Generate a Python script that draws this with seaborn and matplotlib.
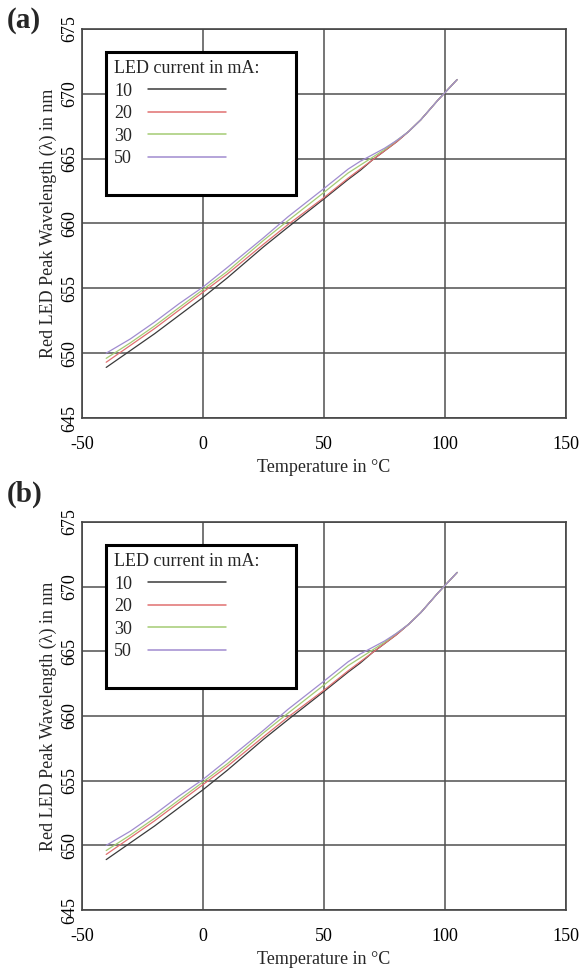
import pandas as pd
import matplotlib.pyplot as plt
import seaborn as sns
from matplotlib.patches import Rectangle

# data
temps = [-40, -30, -20, -10, 0, 10, 25, 35, 50, 60, 65, 70, 75, 80, 85, 90, 97, 105]
wl_10 = [648.9, 650.2, 651.5, 652.9, 654.3, 655.8, 658.2, 659.7, 661.9, 663.4, 664.1, 664.9, 665.6, 666.3, 667.1, 668.0, 669.5, 671.1]
wl_20 = [649.3, 650.6, 651.9, 653.3, 654.7, 656.1, 658.4, 659.9, 662.0, 663.5, 664.2, 664.9, 665.6, 666.3, 667.1, 668.0, 669.5, 671.1]
wl_30 = [649.6, 650.8, 652.1, 653.5, 654.9, 656.3, 658.7, 660.2, 662.4, 663.9, 664.5, 665.1, 665.7, 666.4, 667.1, 668.0, 669.5, 671.1]
wl_50 = [650.0, 651.1, 652.4, 653.8, 655.1, 656.6, 658.9, 660.5, 662.7, 664.2, 664.8, 665.3, 665.8, 666.4, 667.1, 668.0, 669.5, 671.1]
currents = ["10", "20", "30", "50"]
colors = ["#3a3a3a", "#e07070", "#a4cc74", "#a08cd0"]
x_ticks = [-50, 0, 50, 100, 150]
y_ticks = [645, 650, 655, 660, 665, 670, 675]

rows = []
for cur, vals in zip(currents, [wl_10, wl_20, wl_30, wl_50]):
    for t, v in zip(temps, vals):
        rows.append({"temp": t, "wl": v, "current": cur})
data = pd.DataFrame(rows)

sns.set_style("white")
plt.rcParams["font.family"] = ["Liberation Serif", "DejaVu Serif"]
plt.rcParams["axes.unicode_minus"] = False

fig = plt.figure(figsize=(5.79, 9.73), dpi=100)
ax_a = fig.add_axes([0.1416, 0.5704, 0.836, 0.3998])
ax_b = fig.add_axes([0.1416, 0.0647, 0.836, 0.3988])

fs = 13
for ax, tag, ytag in [(ax_a, "(a)", 0.979), (ax_b, "(b)", 0.492)]:
    sns.lineplot(data=data, x="temp", y="wl", hue="current", palette=colors,
                 linewidth=0.9, ax=ax, legend=True, sort=False)
    ax.set_xlim(-50, 150)
    ax.set_ylim(645, 675)
    ax.set_xticks(x_ticks)
    ax.set_yticks(y_ticks)
    ax.grid(True, color="#505050", linewidth=1.1)
    ax.set_axisbelow(True)
    for s in ax.spines.values():
        s.set_color("#444444")
        s.set_linewidth(1.2)
    ax.tick_params(axis="both", length=0, labelsize=fs, colors="black")
    ax.tick_params(axis="x", pad=13)
    ax.tick_params(axis="y", pad=3)
    for lab in ax.get_yticklabels():
        lab.set_rotation(90)
        lab.set_va("center")
    ax.set_xlabel("Temperature in °C", fontsize=fs, labelpad=4)
    ax.set_ylabel("Red LED Peak Wavelength (λ) in nm", fontsize=fs, labelpad=3)

    handles, labels = ax.get_legend_handles_labels()
    for h in handles:
        h.set_linewidth(1.1)
    leg = ax.legend(handles, labels, title="LED current in mA:", loc="upper left",
                    bbox_to_anchor=(0.04, 0.952), frameon=False, markerfirst=False,
                    fontsize=fs, title_fontsize=fs, alignment="left",
                    handlelength=4.3, handletextpad=0.9, labelspacing=0.3,
                    borderpad=0.2)
    leg.set_zorder(6)
    # legend box, white so the grid does not show through
    ax.add_patch(Rectangle((0.0496, 0.573), 0.392, 0.368, transform=ax.transAxes,
                           facecolor="white", edgecolor="black", linewidth=2.2, zorder=5))
    fig.text(0.012, ytag, tag, fontsize=21, fontweight="bold", va="center")

fig.savefig("out.png", dpi=100)
